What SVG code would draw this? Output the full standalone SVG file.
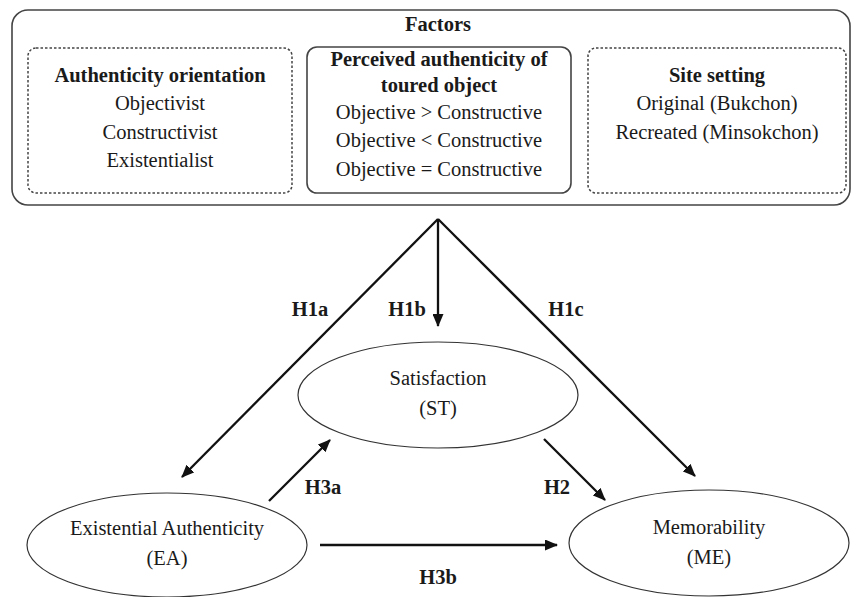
<svg xmlns="http://www.w3.org/2000/svg" width="852" height="597" viewBox="0 0 852 597" font-family="'Liberation Serif', 'DejaVu Serif', serif">
<defs>
<marker id="ah" markerUnits="userSpaceOnUse" markerWidth="13" markerHeight="11" refX="12" refY="5.5" orient="auto-start-reverse">
<path d="M0,0 L13,5.5 L0,11 z" fill="#111"/>
</marker>
<style>
text{font-family:'Liberation Serif','DejaVu Serif',serif}
.t{font-size:20.5px;fill:#1a1a1a;text-anchor:middle}
.b{font-weight:bold}
.lb{font-size:20.5px;font-weight:bold;fill:#1a1a1a;text-anchor:middle}
.dash{fill:none;stroke:#444;stroke-width:1.5;stroke-dasharray:2.5,2}
.solid{fill:none;stroke:#444;stroke-width:1.6}
.ell{fill:none;stroke:#333;stroke-width:1.2}
.ar{stroke:#111;stroke-width:2.3;fill:none}
</style>
</defs>
<rect width="852" height="597" fill="#fff"/>
<g id="factors">
<rect x="12" y="10" width="838" height="195" rx="16" class="solid"/>
<text x="438" y="31" class="t b">Factors</text>
</g>
<g id="orientation">
<rect x="28" y="48" width="264" height="145" rx="8" class="dash"/>
<text x="160" y="82" class="t b">Authenticity orientation</text>
<text x="160" y="110" class="t">Objectivist</text>
<text x="160" y="139" class="t">Constructivist</text>
<text x="160" y="167" class="t">Existentialist</text>
</g>
<g id="perceived">
<rect x="307" y="47" width="264" height="146" rx="10" class="solid"/>
<text x="439" y="66" class="t b">Perceived authenticity of</text>
<text x="439" y="92" class="t b">toured object</text>
<text x="439" y="119" class="t">Objective &gt; Constructive</text>
<text x="439" y="147" class="t">Objective &lt; Constructive</text>
<text x="439" y="176" class="t">Objective = Constructive</text>
</g>
<g id="site">
<rect x="588" y="48" width="258" height="145" rx="8" class="dash"/>
<text x="717" y="82" class="t b">Site setting</text>
<text x="717" y="110" class="t">Original (Bukchon)</text>
<text x="717" y="139" class="t">Recreated (Minsokchon)</text>
</g>
<g id="st">
<ellipse cx="438" cy="395" rx="140" ry="53" class="ell"/>
<text x="438" y="385" class="t">Satisfaction</text>
<text x="438" y="415" class="t">(ST)</text>
</g>
<g id="ea">
<ellipse cx="167" cy="545" rx="140" ry="52" class="ell"/>
<text x="167" y="535" class="t">Existential Authenticity</text>
<text x="167" y="565" class="t">(EA)</text>
</g>
<g id="me">
<ellipse cx="709" cy="543" rx="140" ry="53" class="ell"/>
<text x="709" y="534" class="t">Memorability</text>
<text x="709" y="564" class="t">(ME)</text>
</g>
<g id="connectors">
<line x1="438" y1="219" x2="438" y2="326" class="ar" marker-end="url(#ah)"/>
<line x1="438" y1="219" x2="182" y2="477" class="ar" marker-end="url(#ah)"/>
<line x1="438" y1="219" x2="695" y2="476" class="ar" marker-end="url(#ah)"/>
<line x1="269" y1="501" x2="330" y2="440" class="ar" marker-end="url(#ah)"/>
<line x1="544" y1="439" x2="605" y2="500" class="ar" marker-end="url(#ah)"/>
<line x1="320" y1="545" x2="557" y2="545" class="ar" marker-end="url(#ah)"/>
<text x="310" y="316" class="lb">H1a</text>
<text x="407" y="316" class="lb">H1b</text>
<text x="566" y="316" class="lb">H1c</text>
<text x="323" y="494" class="lb">H3a</text>
<text x="557" y="494" class="lb">H2</text>
<text x="438" y="584" class="lb">H3b</text>
</g>
</svg>
